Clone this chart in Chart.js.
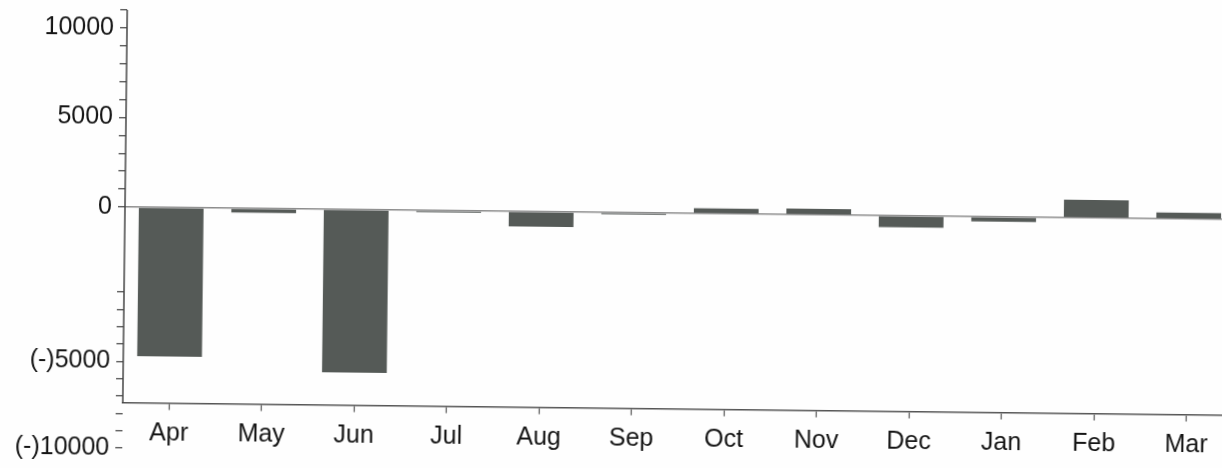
<!DOCTYPE html>
<html>
<head>
<meta charset="utf-8">
<script src="https://cdn.jsdelivr.net/npm/chart.js@4.4.1/dist/chart.umd.min.js"></script>
<style>
  html, body { margin: 0; padding: 0; background: #fefefe; overflow: hidden; }
  .wrap { width: 1235px; height: 468px; transform: rotate(0.65deg); transform-origin: 125px 207px; }
</style>
</head>
<body>
<div class="wrap"><canvas id="chart" width="1235" height="468"></canvas></div>
<script>
const months = ["Apr", "May", "Jun", "Jul", "Aug", "Sep", "Oct", "Nov", "Dec", "Jan", "Feb", "Mar"];
const values = [-4700, -50, -5500, -20, -175, -20, 300, 330, -135, -55, 1000, 350];
const yTickLabels = [10000, 5000, 0, -5000, -10000];
const xAxisAt = -7400;

// the printed value axis is not uniform: the band from 0 down to -1000 is stretched
const yBreaks = [[11000, 0], [0, 0.4498], [-1000, 0.6438], [-10000, 1]];

class BrokenScale extends Chart.LinearScale {
  fracOf(v) {
    let i = 0;
    while (i < yBreaks.length - 2 && v < yBreaks[i + 1][0]) i++;
    const [v0, f0] = yBreaks[i];
    const [v1, f1] = yBreaks[i + 1];
    return f0 + ((v - v0) / (v1 - v0)) * (f1 - f0);
  }
  getPixelForValue(v) {
    return this.top + this.fracOf(v) * (this.bottom - this.top);
  }
  getValueForPixel(p) {
    const f = (p - this.top) / (this.bottom - this.top);
    let i = 0;
    while (i < yBreaks.length - 2 && f > yBreaks[i + 1][1]) i++;
    const [v0, f0] = yBreaks[i];
    const [v1, f1] = yBreaks[i + 1];
    return v0 + ((f - f0) / (f1 - f0)) * (v1 - v0);
  }
}
BrokenScale.id = "broken";
Chart.register(BrokenScale);

// y axis line only runs down to the category axis
const yAxisLine = {
  id: "yAxisLine",
  afterDraw(chart) {
    const { ctx, chartArea, scales } = chart;
    const bottom = scales.y.getPixelForValue(xAxisAt);
    ctx.save();
    ctx.strokeStyle = "#444";
    ctx.lineWidth = 1.5;
    ctx.beginPath();
    ctx.moveTo(chartArea.left, chartArea.top);
    ctx.lineTo(chartArea.left, bottom);
    ctx.stroke();
    ctx.restore();
  },
};

const font = { family: "'Liberation Sans', Arial, sans-serif", size: 25 };
const ctx = document.getElementById("chart");

new Chart(ctx, {
  type: "bar",
  data: {
    labels: months,
    datasets: [
      {
        data: values,
        backgroundColor: "#555a57",
        borderWidth: 0,
        barPercentage: 0.7,
        categoryPercentage: 1.0,
      },
    ],
  },
  options: {
    responsive: false,
    animation: false,
    layout: { padding: { top: 10, bottom: 20, left: 0, right: 0 } },
    plugins: { legend: { display: false }, tooltip: { enabled: false } },
    scales: {
      x: {
        position: { y: xAxisAt },
        offset: true,
        border: { color: "#555", width: 1.5 },
        grid: { offset: false, drawOnChartArea: false, tickLength: 6, tickColor: "#555", tickWidth: 1.2 },
        ticks: { padding: 9, color: "#151515", font: font, maxRotation: 0, autoSkip: false },
      },
      y: {
        type: "broken",
        min: -10000,
        max: 11000,
        border: { display: false },
        grid: {
          color: (c) => (c.tick && Math.round(c.tick.value) === 0 ? "#8c8c8c" : "rgba(0,0,0,0)"),
          lineWidth: 1.5,
          tickColor: "#444",
          tickLength: 7,
          tickWidth: 1.2,
        },
        ticks: {
          stepSize: 1000,
          autoSkip: false,
          padding: 6,
          color: "#151515",
          font: font,
          callback: (v) => {
            v = Math.round(v);
            if (!yTickLabels.includes(v)) return "";
            return v < 0 ? "(-)" + -v : String(v);
          },
        },
        afterFit: (s) => {
          s.width = 125;
          s.paddingTop = 0;
          s.paddingBottom = 0;
        },
      },
    },
  },
  plugins: [yAxisLine],
});
</script>
</body>
</html>
